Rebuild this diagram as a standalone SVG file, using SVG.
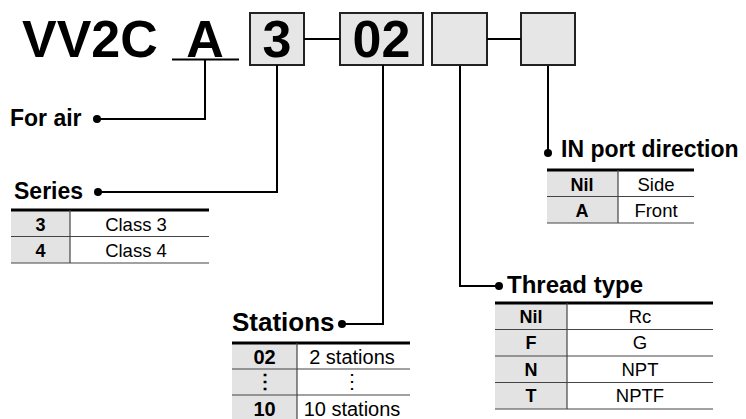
<svg xmlns="http://www.w3.org/2000/svg" width="746" height="419" viewBox="0 0 746 419">
<style>
text{font-family:"Liberation Sans",Arial,sans-serif;fill:#000}
.big{font-size:52px;font-weight:bold}
.title{font-size:23px;font-weight:bold}
.k{font-size:18px;font-weight:bold;text-anchor:middle}
.v{font-size:18.5px;text-anchor:middle}
.s{font-size:20px}
.box{fill:#e6e6e6;stroke:#222;stroke-width:2}
.ln{fill:none;stroke:#000;stroke-width:2}
.grey{fill:#e3e3e3}
.top{stroke:#000;stroke-width:3}
.sep{stroke:#444;stroke-width:1.2}
.col{stroke:#444;stroke-width:1.2}
.dot{fill:#000}
</style>
<g id="header">
<text class="big" x="22" y="57">VV2C</text>
<text class="big" x="205" y="57" text-anchor="middle">A</text>
<line class="ln" x1="172" y1="59.5" x2="239" y2="59.5"/>
</g>
<g id="box-series"><rect class="box" x="250" y="13" width="54" height="52"/><text class="big" x="277" y="57" text-anchor="middle">3</text></g>
<g id="box-stations"><rect class="box" x="340" y="13" width="83" height="52"/><text class="big" x="381.5" y="57" text-anchor="middle">02</text></g>
<g id="box-thread"><rect class="box" x="432" y="13" width="55" height="52"/></g>
<g id="box-inport"><rect class="box" x="521" y="13" width="54" height="52"/></g>
<g id="connectors">
<line class="ln" x1="304" y1="39" x2="340" y2="39"/>
<line class="ln" x1="487" y1="39" x2="521" y2="39"/>
<polyline class="ln" points="205,60 205,119 97,119"/>
<circle class="dot" cx="97" cy="119" r="4"/>
<polyline class="ln" points="277,65 277,192 98,192"/>
<circle class="dot" cx="98" cy="192" r="4"/>
<polyline class="ln" points="383,65 383,324 342,324"/>
<circle class="dot" cx="342" cy="324" r="4"/>
<polyline class="ln" points="460,66 460,286 499,286"/>
<circle class="dot" cx="499" cy="286" r="4"/>
<polyline class="ln" points="548,66 548,153"/>
<circle class="dot" cx="548" cy="153" r="4"/>
</g>
<g id="for-air"><text class="title" x="10" y="126">For air</text></g>
<g id="series">
<text class="title" x="14" y="199">Series</text>
<rect class="grey" x="11" y="210" width="59" height="53"/>
<line class="top" x1="11" y1="210" x2="209" y2="210"/>
<line class="sep" x1="11" y1="236.5" x2="209" y2="236.5"/>
<line class="sep" x1="11" y1="263" x2="209" y2="263"/>
<line class="col" x1="70" y1="210" x2="70" y2="263"/>
<text class="k" x="40.5" y="231">3</text><text class="v" x="136" y="231">Class 3</text>
<text class="k" x="40.5" y="257">4</text><text class="v" x="136" y="257">Class 4</text>
</g>
<g id="in-port">
<text class="title" x="561" y="157">IN port direction</text>
<rect class="grey" x="547" y="170" width="71" height="53"/>
<line class="top" x1="547" y1="170" x2="694" y2="170"/>
<line class="sep" x1="547" y1="196.5" x2="694" y2="196.5"/>
<line class="sep" x1="547" y1="223" x2="694" y2="223"/>
<line class="col" x1="618" y1="170" x2="618" y2="223"/>
<text class="k" x="582" y="191">Nil</text><text class="v" x="656" y="191">Side</text>
<text class="k" x="582" y="217">A</text><text class="v" x="656" y="217">Front</text>
</g>
<g id="thread">
<text class="title" x="507" y="293" style="font-size:24px">Thread type</text>
<rect class="grey" x="495" y="303" width="72" height="106"/>
<line class="top" x1="495" y1="303" x2="713" y2="303"/>
<line class="sep" x1="495" y1="329.5" x2="713" y2="329.5"/>
<line class="sep" x1="495" y1="356" x2="713" y2="356"/>
<line class="sep" x1="495" y1="382.5" x2="713" y2="382.5"/>
<line class="sep" x1="495" y1="409" x2="713" y2="409"/>
<line class="col" x1="567" y1="303" x2="567" y2="409"/>
<text class="k" x="531" y="323">Nil</text><text class="v" x="640" y="323">Rc</text>
<text class="k" x="531" y="349">F</text><text class="v" x="640" y="349">G</text>
<text class="k" x="531" y="376">N</text><text class="v" x="640" y="376">NPT</text>
<text class="k" x="531" y="402">T</text><text class="v" x="640" y="402">NPTF</text>
</g>
<g id="stations">
<text class="title" x="232" y="331" style="font-size:26px">Stations</text>
<rect class="grey" x="232" y="343" width="65" height="78"/>
<line class="top" x1="232" y1="343" x2="410" y2="343"/>
<line class="sep" x1="232" y1="369" x2="410" y2="369"/>
<line class="sep" x1="232" y1="395" x2="410" y2="395"/>
<line class="col" x1="297" y1="343" x2="297" y2="421"/>
<text class="k s" x="264.5" y="364">02</text><text class="v s" x="352" y="364">2 stations</text>
<text class="k s" x="264.5" y="388">⋮</text><text class="v s" x="352" y="388">⋮</text>
<text class="k s" x="264.5" y="416">10</text><text class="v s" x="352" y="416">10 stations</text>
</g>
</svg>
